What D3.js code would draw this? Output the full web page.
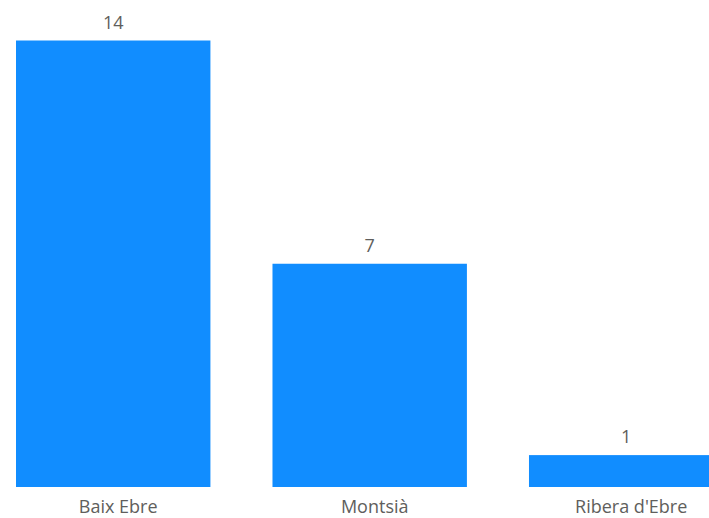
<!DOCTYPE html>
<html>
<head>
<meta charset="utf-8">
<script src="https://cdn.jsdelivr.net/npm/d3@7"></script>
<style>
  html, body { margin: 0; padding: 0; background: #fff; overflow: hidden; }
  svg { display: block; }
</style>
</head>
<body>
<svg id="chart" width="709" height="518"></svg>
<script>
const categories = ["Baix Ebre", "Montsià", "Ribera d'Ebre"];
const values = [14, 7, 1];

const svg = d3.select("#chart");
const baseline = 487;
const plotTop = 40.5;

const x = d3.scaleBand()
  .domain(categories)
  .range([16, 723.4])
  .paddingInner(0.242)
  .paddingOuter(0);

const y = d3.scaleLinear()
  .domain([0, 14])
  .range([baseline, plotTop]);

const data = categories.map((c, i) => ({ c, v: values[i] }));

svg.selectAll("rect.bar")
  .data(data)
  .join("rect")
  .attr("class", "bar")
  .attr("x", d => x(d.c))
  .attr("y", d => y(d.v))
  .attr("width", x.bandwidth())
  .attr("height", d => baseline - y(d.v))
  .attr("fill", "#118DFF");

svg.selectAll("text.val")
  .data(data)
  .join("text")
  .attr("class", "val")
  .attr("x", d => x(d.c) + x.bandwidth() / 2)
  .attr("y", d => y(d.v) - 12)
  .attr("text-anchor", "middle")
  .attr("font-family", "'Open Sans', sans-serif")
  .attr("font-size", 18)
  .attr("fill", "#605E5C")
  .text(d => d.v);

const xAxis = d3.axisBottom(x).tickSize(0).tickPadding(0);
const g = svg.append("g")
  .attr("transform", `translate(0,${baseline})`)
  .call(xAxis);
g.select(".domain").remove();
g.selectAll("text")
  .attr("dy", null)
  .attr("x", 5)
  .attr("y", 26)
  .attr("font-family", "'Open Sans', sans-serif")
  .attr("font-size", 18)
  .attr("fill", "#605E5C");
</script>
</body>
</html>
